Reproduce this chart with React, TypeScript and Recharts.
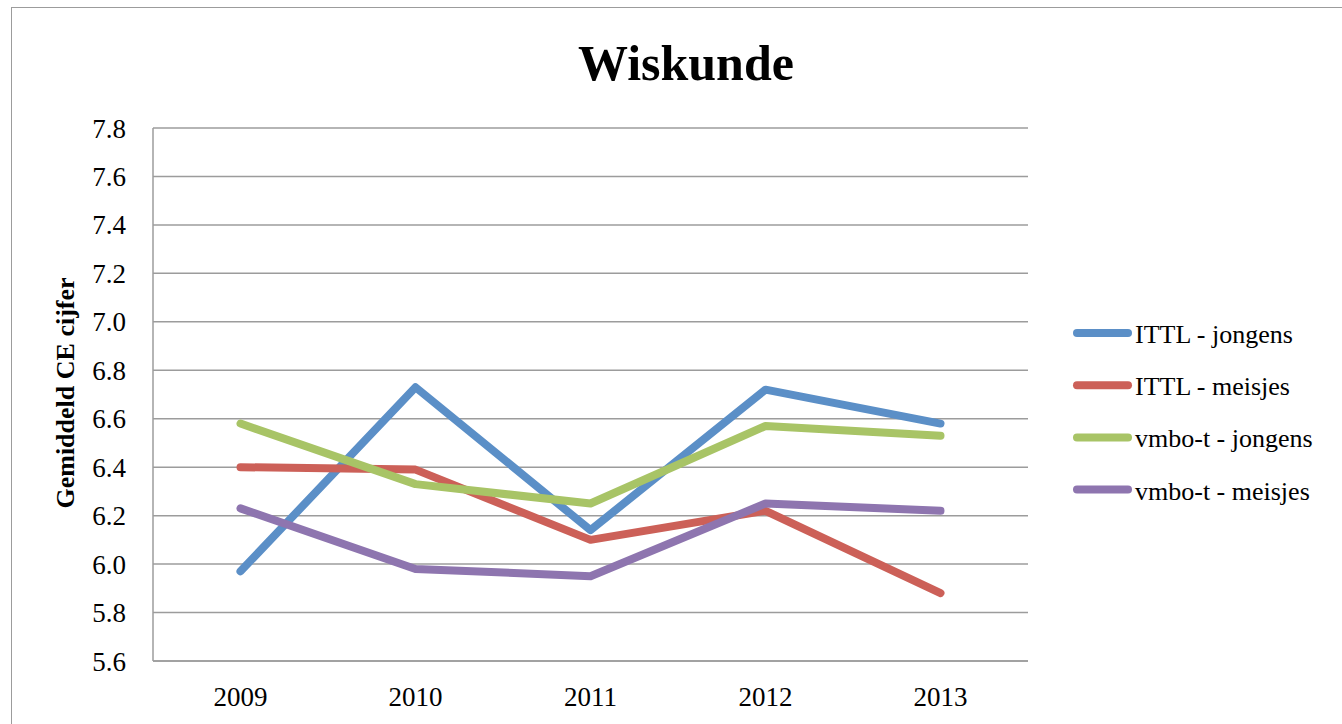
import React from 'react';
import { LineChart, Line, XAxis, YAxis, CartesianGrid } from 'recharts';

const years = ['2009', '2010', '2011', '2012', '2013'];
const ittlJongens = [5.97, 6.73, 6.14, 6.72, 6.58];
const ittlMeisjes = [6.4, 6.39, 6.1, 6.22, 5.88];
const vmboJongens = [6.58, 6.33, 6.25, 6.57, 6.53];
const vmboMeisjes = [6.23, 5.98, 5.95, 6.25, 6.22];
const yTicks = [5.6, 5.8, 6.0, 6.2, 6.4, 6.6, 6.8, 7.0, 7.2, 7.4, 7.6, 7.8];

const series = [
  { key: 'ittlJ', name: 'ITTL - jongens', values: ittlJongens, color: '#5B8FC7' },
  { key: 'ittlM', name: 'ITTL - meisjes', values: ittlMeisjes, color: '#CC6058' },
  { key: 'vmboJ', name: 'vmbo-t - jongens', values: vmboJongens, color: '#A8C466' },
  { key: 'vmboM', name: 'vmbo-t - meisjes', values: vmboMeisjes, color: '#8E75AF' },
];

const data = years.map((year, i) => {
  const row: Record<string, string | number> = { year };
  series.forEach((s) => {
    row[s.key] = s.values[i];
  });
  return row;
});

const FONT = '"Liberation Serif", "Times New Roman", serif';
const GRID = '#9c9c9c';

export default function App() {
  return (
    <div
      style={{
        position: 'fixed',
        left: 0,
        top: 0,
        width: 1342,
        height: 724,
        background: '#fff',
        overflow: 'hidden',
        fontFamily: FONT,
      }}
    >
      <div
        style={{
          position: 'absolute',
          left: 11,
          top: 7,
          width: 1400,
          height: 800,
          borderTop: `1px solid ${GRID}`,
          borderLeft: `1px solid ${GRID}`,
        }}
      />
      <div style={{ position: 'absolute', left: 0, top: 0 }}>
        <LineChart
          width={1342}
          height={724}
          data={data}
          margin={{ top: 128, right: 314, bottom: 33, left: 93 }}
        >
          <CartesianGrid vertical={false} stroke={GRID} strokeWidth={1.5} />
          <XAxis
            dataKey="year"
            height={30}
            padding={{ left: 87.5, right: 87.5 }}
            axisLine={{ stroke: GRID, strokeWidth: 1.5 }}
            tickLine={false}
            tickSize={0}
            tickMargin={26}
            tick={{ fill: '#000', fontSize: 27, fontFamily: FONT }}
          />
          <YAxis
            width={60}
            domain={[5.6, 7.8]}
            ticks={yTicks}
            interval={0}
            tickFormatter={(v: number) => v.toFixed(1)}
            axisLine={{ stroke: GRID, strokeWidth: 1.5 }}
            tickLine={false}
            tickSize={0}
            tickMargin={27}
            tick={{ fill: '#000', fontSize: 27, fontFamily: FONT }}
          />
          {series.map((s) => (
            <Line
              key={s.key}
              type="linear"
              dataKey={s.key}
              name={s.name}
              stroke={s.color}
              strokeWidth={8}
              strokeLinecap="round"
              strokeLinejoin="round"
              dot={false}
              activeDot={false}
              isAnimationActive={false}
            />
          ))}
        </LineChart>
      </div>
      <svg
        width={1342}
        height={724}
        style={{ position: 'absolute', left: 0, top: 0, pointerEvents: 'none' }}
      >
        <text
          x={686}
          y={80}
          textAnchor="middle"
          fontFamily={FONT}
          fontWeight="bold"
          fontSize={50}
          fill="#000"
        >
          Wiskunde
        </text>
        <text
          x={73.5}
          y={393}
          textAnchor="middle"
          transform="rotate(-90, 73.5, 393)"
          fontFamily={FONT}
          fontWeight="bold"
          fontSize={26}
          fill="#000"
        >
          Gemiddeld CE cijfer
        </text>
        {series.map((s, i) => {
          const cy = 333 + i * 52.2;
          return (
            <g key={s.key}>
              <line
                x1={1077}
                x2={1128}
                y1={cy}
                y2={cy}
                stroke={s.color}
                strokeWidth={8}
                strokeLinecap="round"
              />
              <text x={1135} y={cy + 10} fontFamily={FONT} fontSize={26} fill="#000">
                {s.name}
              </text>
            </g>
          );
        })}
      </svg>
    </div>
  );
}
